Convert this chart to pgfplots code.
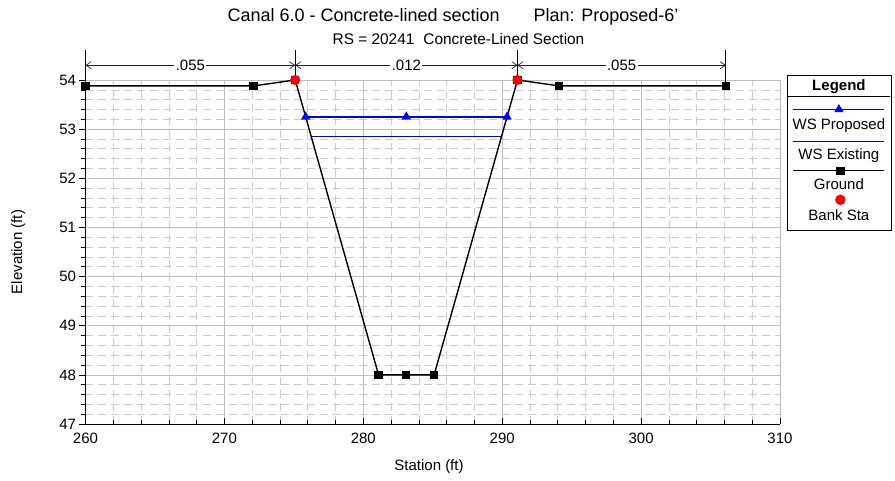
\documentclass[border=0pt]{standalone}
\usepackage{pgfplots}
\pgfplotsset{compat=1.18}
\usepackage{fontspec}
\setmainfont{Liberation Sans}
\usetikzlibrary{arrows.meta}

\definecolor{wsblue}{RGB}{0,0,255}
\definecolor{bankred}{RGB}{255,0,0}

\pgfplotstableread{
x      y
260.0  53.88
272.1  53.88
275.1  54.00
281.1  48.00
283.1  48.00
285.1  48.00
291.1  54.00
294.1  53.88
306.1  53.88
}\ground

\pgfplotstableread{
x      y
275.85 53.25
283.10 53.25
290.35 53.25
}\wsproposed

\pgfplotstableread{
x      y
276.20 52.85
289.95 52.85
}\wsexisting

\pgfplotstableread{
x      y
275.1  54.0
291.1  54.0
}\banksta

\begin{document}
\begin{tikzpicture}[x=1pt,y=1pt]
\path[use as bounding box] (0,0) rectangle (895,481);

% titles
\node[font=\fontsize{18}{21}\selectfont, anchor=center] at (453,464)
  {Canal 6.0 - Concrete-lined section\hspace{34pt}Plan: Proposed-6'};
\node[font=\fontsize{15.4}{18}\selectfont, anchor=center] at (458.5,442)
  {RS = 20241\hspace{9pt}Concrete-Lined Section};

\begin{axis}[
  at={(85.5pt,57pt)}, anchor=south west,
  scale only axis, width=694.5pt, height=344pt,
  xmin=260, xmax=310, ymin=47, ymax=54,
  axis x line*=bottom, axis y line*=left,
  axis line style={-, black, line width=0.9pt},
  xtick={260,270,...,310}, ytick={47,...,54},
  minor x tick num=4, minor y tick num=4,
  xtick align=inside, ytick align=outside,
  major tick length=6pt, minor tick length=4pt,
  tick style={black, line width=0.6pt},
  grid=both,
  major grid style={gray!50, line width=0.7pt, solid},
  minor grid style={gray!40, line width=0.6pt, dash pattern=on 8pt off 5pt},
  ticklabel style={font=\fontsize{15}{18}\selectfont},
  xticklabel style={yshift=-5pt},
  /pgf/number format/assume math mode=true,
  xlabel={Station (ft)}, ylabel={Elevation (ft)},
  label style={font=\fontsize{15}{18}\selectfont},
  xlabel style={at={(axis description cs:0.4946,-0.125)}, anchor=center},
  ylabel style={at={(axis description cs:-0.097,0.5)}, anchor=center},
  clip=false,
  legend columns=1,
  legend style={at={(axis description cs:1.0101,1.0145)}, anchor=north west,
    draw=black, line width=0.8pt, fill=white,
    inner sep=0pt, outer sep=0pt, row sep=0pt, column sep=0pt,
    nodes={inner sep=0pt, outer sep=0pt, draw=none}},
]

% water surfaces
\addplot[wsblue, line width=1.6pt, forget plot] table[x=x,y=y] {\wsexisting};
\addplot[wsblue, line width=1.6pt, mark=triangle*, mark size=3.8pt, forget plot]
  table[x=x,y=y] {\wsproposed};

% ground profile
\addplot[black, line width=1.4pt, mark=square*, mark size=3.4pt, forget plot]
  table[x=x,y=y] {\ground};

% bank stations
\addplot[only marks, mark=*, mark size=4.8pt, bankred, forget plot]
  table[x=x,y=y] {\banksta};

% Manning's n reach dimension lines
\draw[black, line width=0.8pt] (axis cs:260,53.88) -- (axis cs:260,54.61);
\draw[black, line width=0.8pt] (axis cs:306.1,53.88) -- (axis cs:306.1,54.61);
\draw[black, line width=1.4pt] (axis cs:275.1,54.05) -- (axis cs:275.1,54.61);
\draw[black, line width=1.4pt] (axis cs:291.1,54.05) -- (axis cs:291.1,54.61);
\begin{scope}[font=\fontsize{15}{18}\selectfont,
   every node/.style={fill=white, inner sep=1.5pt}]
\draw[{Straight Barb[length=5pt,width=7pt]}-{Straight Barb[length=5pt,width=7pt]}, line width=0.7pt, black!85]
  (axis cs:260,54.3) -- node[text=black]{.055} (axis cs:275.1,54.3);
\draw[{Straight Barb[length=5pt,width=7pt]}-{Straight Barb[length=5pt,width=7pt]}, line width=0.7pt, black!85]
  (axis cs:275.1,54.3) -- node[text=black]{.012} (axis cs:291.1,54.3);
\draw[{Straight Barb[length=5pt,width=7pt]}-{Straight Barb[length=5pt,width=7pt]}, line width=0.7pt, black!85]
  (axis cs:291.1,54.3) -- node[text=black]{.055} (axis cs:306.1,54.3);
\end{scope}

% legend: sample above its label, one entry per row
\addlegendimage{legend image code/.code={%
  \path[draw=none, fill=none] (-51.5pt,-10pt) rectangle (51.5pt,11pt);
  \node[font=\fontsize{15}{18}\selectfont\bfseries, anchor=mid, draw=none, fill=none] at (0pt,-2pt) {Legend};
  \draw[black, line width=0.8pt] (-51.5pt,-10pt) -- (51.5pt,-10pt);}}
\addlegendentry{\hbox{}}
\addlegendimage{legend image code/.code={%
  \path[draw=none, fill=none] (-51.5pt,-21pt) rectangle (51.5pt,13pt);
  \draw[wsblue, line width=1.6pt, mark=triangle*, mark size=3.8pt, mark repeat=2, mark phase=2]
    plot coordinates {(-45.5pt,0pt) (0pt,0pt) (45.5pt,0pt)};
  \node[font=\fontsize{15}{18}\selectfont, anchor=mid, text=black, draw=none, fill=none] at (0pt,-17pt) {WS Proposed};}}
\addlegendentry{\hbox{}}
\addlegendimage{legend image code/.code={%
  \path[draw=none, fill=none] (-51.5pt,-19pt) rectangle (51.5pt,11pt);
  \draw[wsblue, line width=1.6pt] (-45.5pt,0pt) -- (45.5pt,0pt);
  \node[font=\fontsize{15}{18}\selectfont, anchor=mid, text=black, draw=none, fill=none] at (0pt,-15pt) {WS Existing};}}
\addlegendentry{\hbox{}}
\addlegendimage{legend image code/.code={%
  \path[draw=none, fill=none] (-51.5pt,-18pt) rectangle (51.5pt,10pt);
  \draw[black, line width=1.4pt, mark=square*, mark size=3.4pt, mark repeat=2, mark phase=2]
    plot coordinates {(-45.5pt,0pt) (1.5pt,0pt) (45.5pt,0pt)};
  \node[font=\fontsize{15}{18}\selectfont, anchor=mid, text=black, draw=none, fill=none] at (0pt,-16pt) {Ground};}}
\addlegendentry{\hbox{}}
\addlegendimage{legend image code/.code={%
  \path[draw=none, fill=none] (-51.5pt,-31pt) rectangle (51.5pt,9pt);
  \path[draw=none, fill=none] plot[only marks, mark=*, mark size=4.8pt, mark options={draw=bankred, fill=bankred}] coordinates {(1.5pt,0pt)};
  \node[font=\fontsize{15}{18}\selectfont, anchor=mid, text=black, draw=none, fill=none] at (0pt,-18pt) {Bank Sta};}}
\addlegendentry{\hbox{}}

\end{axis}
\end{tikzpicture}
\end{document}
